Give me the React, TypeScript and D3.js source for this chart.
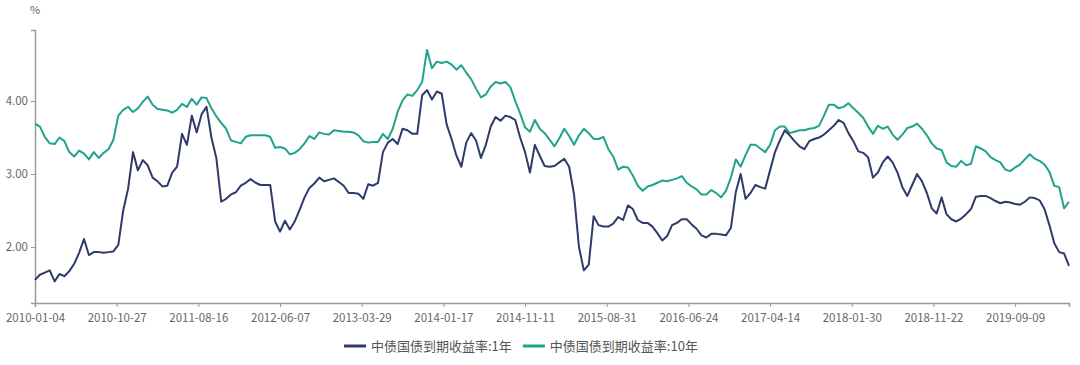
import React, { useEffect, useRef } from "react";
import * as d3 from "d3";

// one sample every 12 trading days, starting 2010-01-04
const STEP = 12;

const tickLabels = [
  "2010-01-04", "2010-10-27", "2011-08-16", "2012-06-07", "2013-03-29",
  "2014-01-17", "2014-11-11", "2015-08-31", "2016-06-24", "2017-04-14",
  "2018-01-30", "2018-11-22", "2019-09-09",
];
const TICK_EVERY = 200; // trading days between labels

const seriesNames = ["中债国债到期收益率:1年", "中债国债到期收益率:10年"];

const yield1y = [
  1.55, 1.62, 1.65, 1.68, 1.53, 1.63, 1.60, 1.67, 1.77, 1.92,
  2.11, 1.89, 1.93, 1.93, 1.92, 1.93, 1.94, 2.03, 2.50, 2.80,
  3.30, 3.05, 3.19, 3.12, 2.95, 2.90, 2.83, 2.84, 3.02, 3.10,
  3.55, 3.40, 3.80, 3.57, 3.82, 3.92, 3.50, 3.22, 2.62, 2.66,
  2.72, 2.75, 2.84, 2.88, 2.93, 2.88, 2.85, 2.85, 2.85, 2.35,
  2.21, 2.36, 2.24, 2.35, 2.51, 2.68, 2.81, 2.87, 2.95, 2.90,
  2.92, 2.94, 2.89, 2.84, 2.74, 2.74, 2.73, 2.66, 2.86, 2.84,
  2.88, 3.30, 3.43, 3.48, 3.41, 3.62, 3.60, 3.55, 3.55, 4.08,
  4.15, 4.02, 4.13, 4.10, 3.68, 3.48, 3.25, 3.10, 3.43, 3.56,
  3.46, 3.22, 3.40, 3.65, 3.78, 3.73, 3.80, 3.78, 3.74, 3.50,
  3.30, 3.02, 3.40, 3.25, 3.11, 3.10, 3.11, 3.16, 3.21, 3.10,
  2.72, 2.00, 1.68, 1.76, 2.42, 2.30, 2.28, 2.28, 2.32, 2.41,
  2.37, 2.57, 2.52, 2.37, 2.33, 2.33, 2.28, 2.19, 2.09, 2.15,
  2.30, 2.33, 2.38, 2.38, 2.31, 2.25, 2.16, 2.13, 2.18, 2.18,
  2.17, 2.16, 2.26, 2.75, 3.00, 2.66, 2.74, 2.85, 2.82, 2.80,
  3.05, 3.30, 3.46, 3.60, 3.53, 3.45, 3.38, 3.34, 3.45, 3.48,
  3.50, 3.54, 3.60, 3.66, 3.74, 3.70, 3.56, 3.45, 3.31, 3.29,
  3.23, 2.95, 3.02, 3.16, 3.24, 3.16, 3.02, 2.82, 2.70, 2.85,
  3.00, 2.90, 2.74, 2.53, 2.46, 2.68, 2.45, 2.38, 2.35, 2.39,
  2.45, 2.52, 2.69, 2.70, 2.70, 2.67, 2.63, 2.60, 2.62, 2.61,
  2.59, 2.58, 2.62, 2.68, 2.67, 2.64, 2.52, 2.30, 2.05, 1.93,
  1.91, 1.74,
];

const yield10y = [
  3.69, 3.65, 3.51, 3.42, 3.41, 3.50, 3.45, 3.30, 3.24, 3.32,
  3.28, 3.20, 3.30, 3.22, 3.29, 3.34, 3.47, 3.80, 3.88, 3.92,
  3.85, 3.90, 3.99, 4.06, 3.95, 3.89, 3.88, 3.87, 3.84, 3.88,
  3.96, 3.92, 4.03, 3.95, 4.05, 4.04, 3.90, 3.79, 3.70, 3.62,
  3.46, 3.44, 3.42, 3.51, 3.53, 3.53, 3.53, 3.53, 3.51, 3.36,
  3.37, 3.35, 3.27, 3.29, 3.34, 3.42, 3.52, 3.48, 3.57, 3.55,
  3.54, 3.60, 3.59, 3.58, 3.58, 3.57, 3.53, 3.45, 3.43, 3.44,
  3.44, 3.55, 3.48, 3.62, 3.85, 4.01, 4.09, 4.07, 4.15, 4.26,
  4.70, 4.45, 4.54, 4.52, 4.54, 4.50, 4.43, 4.49, 4.39, 4.30,
  4.17, 4.05, 4.09, 4.20, 4.26, 4.24, 4.26, 4.19, 4.00, 3.83,
  3.64, 3.58, 3.74, 3.62, 3.56, 3.47, 3.38, 3.49, 3.62, 3.52,
  3.40, 3.53, 3.62, 3.56, 3.48, 3.48, 3.51, 3.34, 3.24, 3.06,
  3.10, 3.09, 2.98, 2.84, 2.77, 2.83, 2.85, 2.88, 2.91, 2.90,
  2.92, 2.94, 2.97, 2.88, 2.83, 2.79, 2.72, 2.72, 2.78, 2.74,
  2.68, 2.77, 2.95, 3.20, 3.10, 3.26, 3.40, 3.40, 3.35, 3.30,
  3.40, 3.60, 3.65, 3.65, 3.56, 3.58, 3.60, 3.60, 3.62, 3.63,
  3.66, 3.80, 3.95, 3.95, 3.90, 3.92, 3.97, 3.90, 3.84, 3.77,
  3.65, 3.55, 3.66, 3.62, 3.65, 3.54, 3.47, 3.54, 3.63, 3.65,
  3.69, 3.62, 3.53, 3.42, 3.35, 3.33, 3.16, 3.11, 3.10, 3.18,
  3.12, 3.14, 3.38, 3.35, 3.31, 3.23, 3.19, 3.16, 3.06, 3.04,
  3.09, 3.13, 3.20, 3.27, 3.21, 3.18, 3.13, 3.03, 2.84, 2.82,
  2.53, 2.62,
];

const yTicks = [2, 3, 4];
const colors = ["#2e3a6b", "#21a28b"];

const App = () => {
  const svgRef = useRef(null);

  useEffect(() => {
    const width = 1080,
      height = 365;
    const margin = { top: 30, right: 11, bottom: 62, left: 35 };

    const svg = d3.select(svgRef.current);
    svg.selectAll("*").remove();
    svg.attr("width", width).attr("height", height);

    const lastDay = (yield1y.length - 1) * STEP;

    const x = d3
      .scaleLinear()
      .domain([0, lastDay])
      .range([margin.left, width - margin.right]);

    const y = d3
      .scaleLinear()
      .domain([1.233, 4.973])
      .range([height - margin.bottom, margin.top]);

    const font = "'Noto Sans CJK SC', 'Noto Sans', sans-serif";

    // x axis
    const xAxis = svg
      .append("g")
      .attr("transform", `translate(0, ${height - margin.bottom})`)
      .call(
        d3
          .axisBottom(x)
          .tickValues(tickLabels.map((_, i) => i * TICK_EVERY))
          .tickFormat((d, i) => tickLabels[i])
          .tickSizeOuter(0)
          .tickSize(4)
      );
    xAxis.select(".domain").attr("stroke", "#9a9a9a").attr("stroke-width", 1.5);
    xAxis.selectAll(".tick line").attr("stroke", "#9a9a9a");
    xAxis
      .selectAll(".tick text")
      .attr("fill", "#666")
      .attr("font-size", 11.5)
      .attr("font-family", font)
      .attr("dy", "1.0em");

    // y axis
    const yAxis = svg
      .append("g")
      .attr("transform", `translate(${margin.left}, 0)`)
      .call(
        d3
          .axisLeft(y)
          .tickValues(yTicks)
          .tickFormat(d3.format(".2f"))
          .tickSizeOuter(0)
          .tickSize(4)
      );
    yAxis.select(".domain").attr("stroke", "#9a9a9a").attr("stroke-width", 1.5);
    yAxis.selectAll(".tick line").attr("stroke", "#9a9a9a");
    yAxis
      .selectAll(".tick text")
      .attr("fill", "#666")
      .attr("font-size", 11.5)
      .attr("font-family", font);

    svg
      .append("text")
      .attr("x", margin.left)
      .attr("y", 14)
      .attr("text-anchor", "middle")
      .attr("fill", "#666")
      .attr("font-size", 11)
      .attr("font-family", font)
      .text("%");

    // lines
    const line = d3
      .line()
      .x((d, i) => x(i * STEP))
      .y((d) => y(d));

    [yield10y, yield1y].forEach((s, k) => {
      svg
        .append("path")
        .datum(s)
        .attr("fill", "none")
        .attr("stroke", colors[1 - k])
        .attr("stroke-width", 2)
        .attr("stroke-linejoin", "round")
        .attr("d", line);
    });

    // legend
    const legend = svg.append("g").attr("transform", "translate(344, 346)");
    let offset = 0;
    seriesNames.forEach((name, i) => {
      const g = legend.append("g").attr("transform", `translate(${offset}, 0)`);
      g.append("line")
        .attr("x1", 0)
        .attr("x2", 22)
        .attr("stroke", colors[i])
        .attr("stroke-width", 3);
      const t = g
        .append("text")
        .attr("x", 27)
        .attr("dy", "0.35em")
        .attr("fill", "#555")
        .attr("font-size", 13)
        .attr("font-family", font)
        .text(name);
      offset += 27 + t.node().getComputedTextLength() + 11;
    });
  }, []);

  return (
    <svg
      ref={svgRef}
      style={{ position: "absolute", left: 0, top: 0, background: "#fff" }}
    ></svg>
  );
};

export default App;
